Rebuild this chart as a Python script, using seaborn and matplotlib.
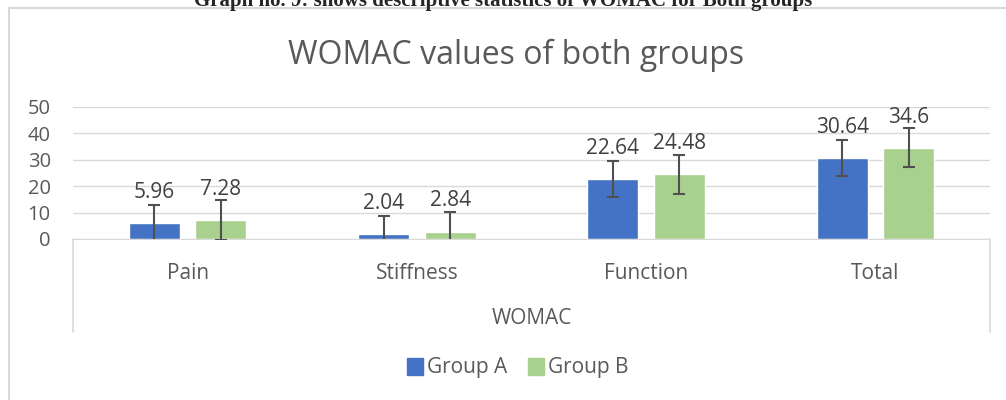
import pandas as pd
import matplotlib.pyplot as plt
import seaborn as sns
from matplotlib.lines import Line2D
from matplotlib.patches import Rectangle

categories = ["Pain", "Stiffness", "Function", "Total"]
groups = ["Group A", "Group B"]
group_a = [5.96, 2.04, 22.64, 30.64]
group_b = [7.28, 2.84, 24.48, 34.6]
err_a = [6.8, 6.8, 6.8, 6.8]
err_b = [7.5, 7.5, 7.5, 7.5]
colors = ["#4472C4", "#A9D18E"]
yticks = [0, 10, 20, 30, 40, 50]

df = pd.DataFrame({
    "WOMAC": categories * 2,
    "Group": [groups[0]] * 4 + [groups[1]] * 4,
    "Value": group_a + group_b,
})

sns.set_style("white")
plt.rcParams["font.family"] = ["Open Sans", "DejaVu Sans"]
grey = "#595959"
line = "#d9d9d9"

W, H = 1006, 400
fig = plt.figure(figsize=(W / 100, H / 100), dpi=100)
ax = fig.add_axes([73 / W, 1 - 239 / H, (990 - 73) / W, 132 / H])

sns.barplot(data=df, x="WOMAC", y="Value", hue="Group", palette=colors, saturation=1,
            width=0.58, gap=0.23, errorbar=None, ax=ax)
ax.get_legend().remove()

for cont, vals, errs in zip(ax.containers, [group_a, group_b], [err_a, err_b]):
    xs = [b.get_x() + b.get_width() / 2 for b in cont]
    ax.errorbar(xs, vals, yerr=errs, fmt="none", ecolor="#505050",
                elinewidth=1.5, capsize=4, capthick=1.5, zorder=3)
    for x, v in zip(xs, vals):
        ax.annotate(f"{v:g}", (x, v), xytext=(0, 22), textcoords="offset points",
                    ha="center", va="center", fontsize=15, color="#404040",
                    annotation_clip=False)

ax.set_xlim(-0.5, 3.5)
ax.set_ylim(0, 50)
ax.set_yticks(yticks)
ax.set_xlabel("")
ax.set_ylabel("")
ax.yaxis.grid(True, color=line, lw=1)
ax.set_axisbelow(True)
for s in ["left", "top", "right"]:
    ax.spines[s].set_visible(False)
ax.spines["bottom"].set_color(line)
ax.tick_params(axis="x", length=0, pad=17, labelsize=15, labelcolor=grey)
ax.tick_params(axis="y", length=0, pad=16, labelsize=14.5, labelcolor=grey)

# multi-level axis box below the plot
for xp in [73, 990]:
    fig.add_artist(Line2D([xp / W, xp / W], [1 - 239 / H, 1 - 332 / H],
                          transform=fig.transFigure, color=line, lw=1.2))
fig.text(532 / W, 1 - 318 / H, "WOMAC", ha="center", va="center",
         fontsize=15, color=grey)

# chart border and titles
fig.add_artist(Rectangle((9 / W, -0.05), 1.1, 1 - 8 / H + 0.05, transform=fig.transFigure,
                         fill=False, edgecolor=line, lw=1.5))
fig.text(516 / W, 1 - 55 / H, "WOMAC values of both groups", ha="center", va="center",
         fontsize=23, color=grey)
fig.text(0.5, 1 - 6 / H, "Graph no. 9: shows descriptive statistics of WOMAC for Both groups",
         ha="center", va="baseline", fontsize=15, fontweight="bold",
         family=["Liberation Serif", "DejaVu Serif"])

handles = [Rectangle((0, 0), 1, 1, color=c) for c in colors]
fig.legend(handles, groups, loc="center", bbox_to_anchor=(518 / W, 1 - 368 / H), ncol=2,
           frameon=False, handlelength=0.75, handleheight=0.9, handletextpad=0.2,
           columnspacing=1.0, fontsize=15, labelcolor=grey)

fig.savefig("out.png", dpi=100)
